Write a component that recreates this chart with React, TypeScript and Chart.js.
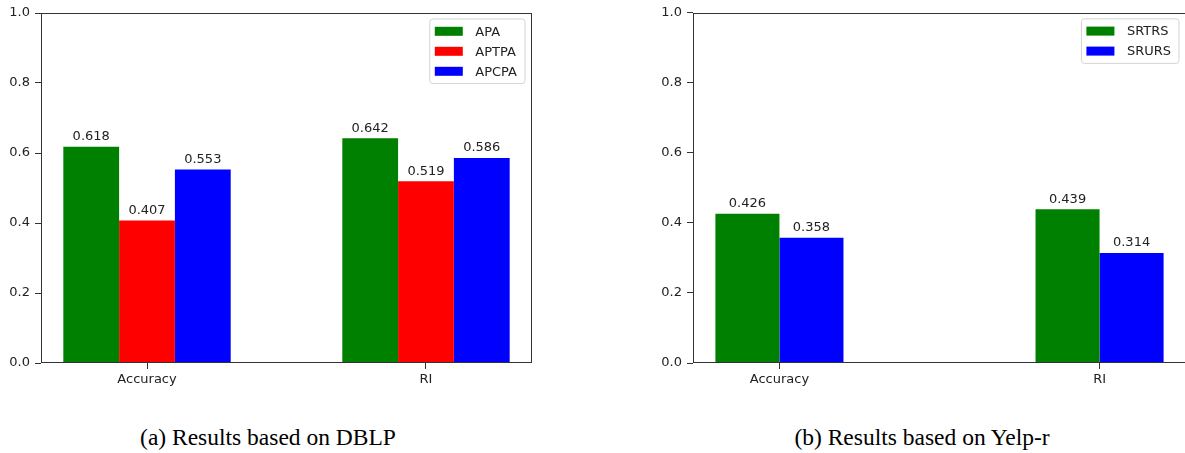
import React, { useEffect, useRef } from "react";
import { Chart, registerables } from "chart.js";

Chart.register(...registerables);

const categories = ["Accuracy", "RI"];
const yTickValues = [0, 0.2, 0.4, 0.6, 0.8, 1.0];

const dblpSeries = ["APA", "APTPA", "APCPA"];
const apaValues = [0.618, 0.642];
const aptpaValues = [0.407, 0.519];
const apcpaValues = [0.553, 0.586];

const yelpSeries = ["SRTRS", "SRURS"];
const srtrsValues = [0.426, 0.439];
const srursValues = [0.358, 0.314];

const GREEN = "#008000";
const RED = "#ff0000";
const BLUE = "#0000ff";
const FONT = "DejaVu Sans";
const TEXT = "#222222";

const framePlugin = {
  id: "frame",
  afterDraw(chart: any) {
    const { ctx, chartArea } = chart;
    const l = Math.round(chartArea.left) + 0.5;
    const t = Math.round(chartArea.top) + 0.5;
    const r = Math.round(chartArea.right) - 0.5;
    const b = Math.round(chartArea.bottom) - 0.5;
    ctx.save();
    ctx.strokeStyle = "#333333";
    ctx.lineWidth = 1;
    ctx.strokeRect(l, t, r - l, b - t);
    ctx.restore();
  },
};

const valueLabelPlugin = {
  id: "valueLabels",
  afterDatasetsDraw(chart: any) {
    const { ctx } = chart;
    ctx.save();
    ctx.font = `13px "${FONT}"`;
    ctx.fillStyle = TEXT;
    ctx.textAlign = "center";
    ctx.textBaseline = "bottom";
    chart.data.datasets.forEach((ds: any, di: number) => {
      const meta = chart.getDatasetMeta(di);
      meta.data.forEach((el: any, i: number) => {
        const v = ds.data[i].y;
        ctx.fillText(v.toFixed(3), el.x, el.y - 3.5);
      });
    });
    ctx.restore();
  },
};

const boxLegendPlugin = {
  id: "boxLegend",
  afterDraw(chart: any) {
    const { ctx, chartArea } = chart;
    const ds = chart.data.datasets;
    ctx.save();
    ctx.font = `13px "${FONT}"`;
    let maxW = 0;
    ds.forEach((d: any) => {
      maxW = Math.max(maxW, ctx.measureText(d.label).width);
    });
    const handleW = 28;
    const handleH = 9;
    const rowH = 20;
    const padL = 5;
    const gap = 12.5;
    const padR = 8;
    const padV = 12.3;
    const w = padL + handleW + gap + maxW + padR;
    const h = padV * 2 + (ds.length - 1) * rowH;
    const right = chartArea.right - 7;
    const top = chartArea.top + 6;
    const left = right - w;
    const rad = 3;
    ctx.beginPath();
    ctx.moveTo(left + rad, top);
    ctx.lineTo(left + w - rad, top);
    ctx.arcTo(left + w, top, left + w, top + rad, rad);
    ctx.lineTo(left + w, top + h - rad);
    ctx.arcTo(left + w, top + h, left + w - rad, top + h, rad);
    ctx.lineTo(left + rad, top + h);
    ctx.arcTo(left, top + h, left, top + h - rad, rad);
    ctx.lineTo(left, top + rad);
    ctx.arcTo(left, top, left + rad, top, rad);
    ctx.closePath();
    ctx.fillStyle = "rgba(255,255,255,0.8)";
    ctx.fill();
    ctx.strokeStyle = "#d4d4d4";
    ctx.lineWidth = 1;
    ctx.stroke();
    ds.forEach((d: any, i: number) => {
      const cy = top + padV + i * rowH;
      ctx.fillStyle = d.backgroundColor;
      ctx.fillRect(left + padL, cy - handleH / 2, handleW, handleH);
      ctx.fillStyle = TEXT;
      ctx.textAlign = "left";
      ctx.textBaseline = "middle";
      ctx.fillText(d.label, left + padL + handleW + gap, cy + 1);
    });
    ctx.restore();
  },
};

type PanelProps = {
  left: number;
  width: number;
  height: number;
  yAxisWidth: number;
  xAxisHeight: number;
  padTop: number;
  padRight: number;
  xMin: number;
  xMax: number;
  categoryPercentage: number;
  series: string[];
  values: number[][];
  colors: string[];
};

function BarPanel(props: PanelProps) {
  const ref = useRef<HTMLCanvasElement | null>(null);
  useEffect(() => {
    if (!ref.current) return;
    const datasets = props.series.map((name, si) => ({
      label: name,
      data: props.values[si].map((v, ci) => ({ x: ci, y: v })),
      backgroundColor: props.colors[si],
      borderWidth: 0,
      categoryPercentage: props.categoryPercentage,
      barPercentage: 1.0,
    }));
    const chart = new Chart(ref.current, {
      type: "bar",
      data: { datasets },
      plugins: [framePlugin, valueLabelPlugin, boxLegendPlugin],
      options: {
        animation: false,
        responsive: false,
        maintainAspectRatio: false,
        devicePixelRatio: 1,
        layout: {
          padding: { top: props.padTop, right: props.padRight, left: 0, bottom: 0 },
        },
        plugins: {
          legend: { display: false },
          tooltip: { enabled: false },
          title: { display: false },
        },
        scales: {
          x: {
            type: "linear",
            min: props.xMin,
            max: props.xMax,
            offset: false,
            border: { display: false },
            grid: {
              display: true,
              offset: false,
              drawOnChartArea: false,
              drawTicks: true,
              tickLength: 6,
              color: "#333333",
              lineWidth: 1,
            },
            afterBuildTicks: (scale: any) => {
              scale.ticks = categories.map((_, i) => ({ value: i }));
            },
            afterFit: (scale: any) => {
              scale.height = props.xAxisHeight;
            },
            ticks: {
              autoSkip: false,
              maxRotation: 0,
              padding: 3,
              color: TEXT,
              font: { family: FONT, size: 13 },
              callback: (v: any) => categories[Math.round(Number(v))] ?? "",
            },
          },
          y: {
            type: "linear",
            min: 0,
            max: 1,
            border: { display: false },
            grid: {
              display: true,
              drawOnChartArea: false,
              drawTicks: true,
              tickLength: 6,
              color: "#333333",
              lineWidth: 1,
            },
            afterBuildTicks: (scale: any) => {
              scale.ticks = yTickValues.map((v) => ({ value: v }));
            },
            afterFit: (scale: any) => {
              scale.width = props.yAxisWidth;
            },
            ticks: {
              padding: 5,
              color: TEXT,
              font: { family: FONT, size: 13 },
              callback: (v: any) => Number(v).toFixed(1),
            },
          },
        },
      } as any,
    });
    return () => chart.destroy();
  }, []);
  return (
    <canvas
      ref={ref}
      width={props.width}
      height={props.height}
      style={{
        position: "absolute",
        left: props.left,
        top: 0,
        width: props.width,
        height: props.height,
      }}
    />
  );
}

const captionStyle: React.CSSProperties = {
  position: "absolute",
  top: 424,
  width: 400,
  textAlign: "center",
  fontFamily: '"Liberation Serif", serif',
  fontSize: 23.5,
  lineHeight: "26px",
  color: "#000",
  whiteSpace: "nowrap",
};

export default function App() {
  return (
    <div
      style={{
        position: "absolute",
        left: 0,
        top: 0,
        width: 1185,
        height: 453,
        overflow: "hidden",
        background: "#fff",
      }}
    >
      <BarPanel
        left={0}
        width={560}
        height={400}
        yAxisWidth={41}
        xAxisHeight={37}
        padTop={13}
        padRight={28}
        xMin={-0.38}
        xMax={1.38}
        categoryPercentage={0.6}
        series={dblpSeries}
        values={[apaValues, aptpaValues, apcpaValues]}
        colors={[GREEN, RED, BLUE]}
      />
      <BarPanel
        left={600}
        width={590}
        height={400}
        yAxisWidth={93}
        xAxisHeight={37}
        padTop={12}
        padRight={4}
        xMin={-0.27}
        xMax={1.27}
        categoryPercentage={0.4}
        series={yelpSeries}
        values={[srtrsValues, srursValues]}
        colors={[GREEN, BLUE]}
      />
      <div style={{ ...captionStyle, left: 268 - 200 }}>(a) Results based on DBLP</div>
      <div style={{ ...captionStyle, left: 922 - 200 }}>(b) Results based on Yelp-r</div>
    </div>
  );
}
